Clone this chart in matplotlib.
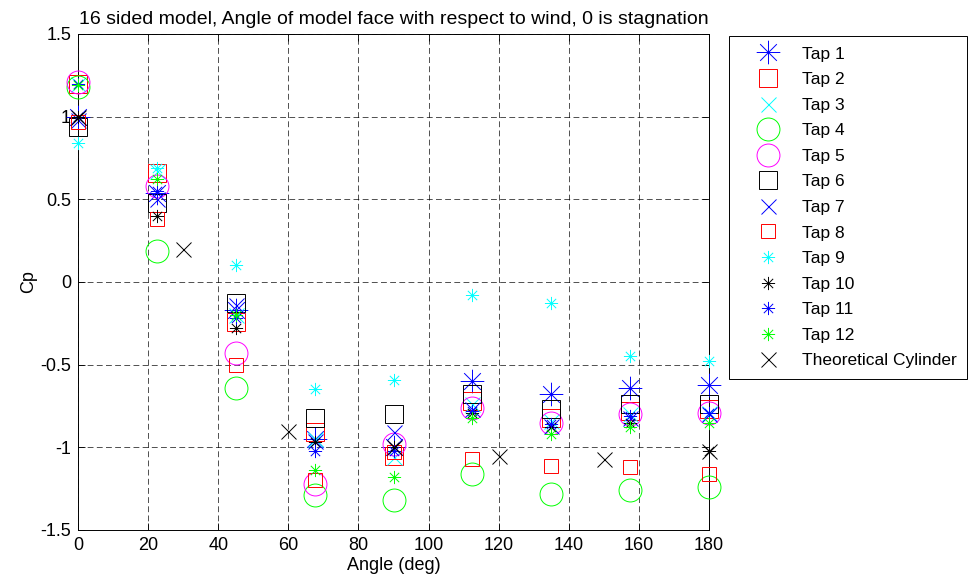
import numpy as np
import matplotlib
matplotlib.use("Agg")
import matplotlib.pyplot as plt
from matplotlib.path import Path

plt.rcParams['font.family'] = ['Liberation Sans', 'DejaVu Sans']
plt.rcParams['font.size'] = 13

# angle of model face (deg)
angles = [0, 22.5, 45, 67.5, 90, 112.5, 135, 157.5, 180]

tap1 = [1.00, 0.54, -0.17, -0.95, -1.00, -0.60, -0.68, -0.64, -0.62]
tap2 = [1.20, 0.66, -0.24, -0.91, -1.05, -0.72, -0.82, -0.78, -0.77]
tap3 = [1.20, 0.67, -0.20, -0.95, -1.06, -0.74, -0.84, -0.80, -0.79]
tap4 = [1.18, 0.19, -0.64, -1.29, -1.32, -1.16, -1.28, -1.26, -1.24]
tap5 = [1.21, 0.58, -0.43, -1.22, -0.98, -0.76, -0.85, -0.80, -0.79]
tap6 = [0.94, 0.48, -0.13, -0.82, -0.80, -0.68, -0.77, -0.74, -0.74]
tap7 = [0.98, 0.50, -0.14, -0.96, -0.91, -0.77, -0.87, -0.82, -0.80]
tap8 = [0.97, 0.38, -0.50, -1.20, -1.03, -1.07, -1.11, -1.12, -1.16]
tap9 = [0.84, 0.69, 0.10, -0.65, -0.59, -0.08, -0.13, -0.45, -0.48]
tap10 = [1.00, 0.40, -0.28, -0.97, -1.00, -0.79, -0.88, -0.85, -1.02]
tap11 = [1.20, 0.55, -0.22, -1.02, -1.02, -0.78, -0.86, -0.81, -0.79]
tap12 = [1.19, 0.62, -0.20, -1.14, -1.18, -0.82, -0.92, -0.88, -0.85]

theory_angle = [0, 30, 60, 90, 120, 150, 180]
theory_cp = [1.0, 0.2, -0.9, -1.0, -1.05, -1.07, -1.02]

# matlab style '*' marker (8 armed asterisk)
d = np.sqrt(0.5)
star_verts = [(-1, 0), (1, 0), (0, -1), (0, 1), (-d, -d), (d, d), (-d, d), (d, -d)]
star_codes = [Path.MOVETO, Path.LINETO] * 4
ASTER = Path(star_verts, star_codes)

series = [
    (tap1, 'Tap 1', ASTER, 'b', 17),
    (tap2, 'Tap 2', 's', 'r', 13.5),
    (tap3, 'Tap 3', 'x', 'c', 10.8),
    (tap4, 'Tap 4', 'o', 'g', 16.5),
    (tap5, 'Tap 5', 'o', 'm', 16.5),
    (tap6, 'Tap 6', 's', 'k', 13.5),
    (tap7, 'Tap 7', 'x', 'b', 10.8),
    (tap8, 'Tap 8', 's', 'r', 10),
    (tap9, 'Tap 9', ASTER, 'c', 9.5),
    (tap10, 'Tap 10', ASTER, 'k', 9.5),
    (tap11, 'Tap 11', ASTER, 'b', 9.5),
    (tap12, 'Tap 12', ASTER, 'g', 9.5),
]
colors = {'b': (0, 0, 1), 'r': (1, 0, 0), 'c': (0, 1, 1), 'g': (0, 1, 0),
          'm': (1, 0, 1), 'k': (0, 0, 0)}

fig = plt.figure(figsize=(9.69, 5.86), dpi=100)
ax = fig.add_axes([78 / 969, 1 - 530 / 586, (709 - 78) / 969, (530 - 34) / 586])

for vals, lab, mk, c, ms in series:
    ax.plot(angles, vals, linestyle='none', marker=mk, markersize=ms,
            markerfacecolor='none', markeredgecolor=colors[c],
            markeredgewidth=0.7, label=lab, clip_on=False, zorder=3)

ax.plot(theory_angle, theory_cp, linestyle='none', marker='x', markersize=10.8,
        markeredgecolor='k', markeredgewidth=0.7, label='Theoretical Cylinder',
        clip_on=False, zorder=3)

ax.set_xlim(0, 180)
ax.set_ylim(-1.5, 1.5)
ax.set_xticks(np.arange(0, 181, 20))
ax.set_yticks([-1.5, -1, -0.5, 0, 0.5, 1, 1.5])
ax.set_yticklabels(['-1.5', '-1', '-0.5', '0', '0.5', '1', '1.5'])
ax.tick_params(direction='in', top=True, right=True, length=5, width=0.6, pad=5)
ax.grid(True, color='k', linestyle=(0, (7, 4)), linewidth=0.6, alpha=0.8)
ax.set_axisbelow(True)
for s in ax.spines.values():
    s.set_linewidth(0.7)

ax.set_xlabel('Angle (deg)', labelpad=2)
ax.set_ylabel('Cp', labelpad=2)
ax.set_title('16 sided model, Angle of model face with respect to wind, 0 is stagnation',
             fontsize=14, pad=7)

leg = ax.legend(loc='upper left', bbox_to_anchor=(729 / 969, 1 - 36 / 586),
                bbox_transform=fig.transFigure, borderaxespad=0, numpoints=1,
                fancybox=False, framealpha=1, edgecolor='k', borderpad=0.6,
                handlelength=3.3, handletextpad=0.3, labelspacing=0.6,
                fontsize=12.5)
leg.get_frame().set_linewidth(0.7)

fig.savefig('out.png', dpi=100)
